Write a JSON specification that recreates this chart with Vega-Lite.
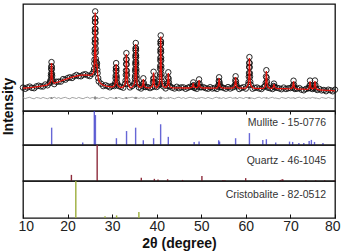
{
  "$schema": "https://vega.github.io/schema/vega-lite/v6.json",
  "padding": {"left": 0, "top": 3, "right": 4, "bottom": 0},
  "config": {
    "font": "Liberation Sans",
    "view": {"stroke": "#111", "strokeWidth": 1.3},
    "axis": {"grid": false}
  },
  "datasets": {
    "scan": [
      {"t":10.0,"o":234,"c":228,"d":134},{"t":10.5,"o":222,"c":230,"d":124},{"t":11.0,"o":235,"c":232,"d":132},{"t":11.5,"o":244,"c":234,"d":137},
      {"t":12.0,"o":231,"c":236,"d":127},{"t":12.5,"o":228,"c":239,"d":122},{"t":13.0,"o":246,"c":242,"d":135},{"t":13.5,"o":253,"c":245,"d":131},
      {"t":14.0,"o":246,"c":248,"d":125},{"t":14.5,"o":245,"c":252,"d":136},{"t":15.0,"o":265,"c":256,"d":128},{"t":15.5,"o":257,"c":261,"d":123},
      {"t":16.0,"o":280,"c":279,"d":133},{"t":17.0,"o":269,"c":278,"d":138},{"t":17.5,"o":292,"c":285,"d":126},{"t":18.0,"o":294,"c":292,"d":134},
      {"t":18.5,"o":294,"c":300,"d":124},{"t":19.0,"o":319,"c":308,"d":132},{"t":19.5,"o":313,"c":316,"d":137},{"t":20.0,"o":329,"c":324,"d":127},
      {"t":20.5,"o":337,"c":331,"d":122},{"t":21.0,"o":330,"c":338,"d":135},{"t":21.5,"o":347,"c":344,"d":131},{"t":22.0,"o":360,"c":350,"d":125},
      {"t":22.5,"o":349,"c":354,"d":136},{"t":23.0,"o":347,"c":358,"d":128},{"t":23.5,"o":363,"c":359,"d":123},{"t":24.0,"o":368,"c":360,"d":133},
      {"t":24.5,"o":356,"c":358,"d":138},{"t":25.0,"o":349,"c":356,"d":126},{"t":25.5,"o":372,"c":363,"d":134},{"t":27.0,"o":296,"c":300,"d":124},
      {"t":27.5,"o":273,"c":272,"d":132},{"t":28.0,"o":249,"c":258,"d":137},{"t":28.5,"o":258,"c":251,"d":127},{"t":29.0,"o":248,"c":246,"d":122},
      {"t":29.5,"o":237,"c":243,"d":135},{"t":30.0,"o":251,"c":240,"d":131},{"t":30.5,"o":249,"c":252,"d":125},{"t":31.5,"o":249,"c":244,"d":136},
      {"t":32.0,"o":241,"c":235,"d":128},{"t":32.5,"o":233,"c":241,"d":123},{"t":34.0,"o":236,"c":233,"d":133},{"t":34.5,"o":250,"c":240,"d":138},
      {"t":36.0,"o":236,"c":241,"d":126},{"t":36.5,"o":225,"c":236,"d":134},{"t":37.5,"o":240,"c":236,"d":124},{"t":38.0,"o":239,"c":231,"d":132},
      {"t":38.5,"o":229,"c":231,"d":137},{"t":39.0,"o":239,"c":246,"d":127},{"t":40.0,"o":240,"c":231,"d":122},{"t":40.5,"o":257,"c":261,"d":135},
      {"t":41.5,"o":246,"c":245,"d":131},{"t":42.0,"o":226,"c":235,"d":125},{"t":43.0,"o":247,"c":240,"d":136},{"t":43.5,"o":233,"c":231,"d":128},
      {"t":44.0,"o":225,"c":231,"d":123},{"t":44.5,"o":242,"c":231,"d":133},{"t":45.0,"o":228,"c":231,"d":138},{"t":45.5,"o":236,"c":231,"d":126},
      {"t":46.0,"o":236,"c":230,"d":134},{"t":46.5,"o":222,"c":230,"d":124},{"t":47.0,"o":233,"c":230,"d":132},{"t":47.5,"o":242,"c":232,"d":137},
      {"t":48.5,"o":230,"c":235,"d":127},{"t":49.0,"o":222,"c":233,"d":122},{"t":50.0,"o":237,"c":233,"d":135},{"t":50.5,"o":238,"c":230,"d":131},
      {"t":51.0,"o":228,"c":230,"d":125},{"t":51.5,"o":223,"c":230,"d":136},{"t":52.0,"o":238,"c":229,"d":128},{"t":52.5,"o":225,"c":229,"d":123},
      {"t":53.0,"o":230,"c":229,"d":133},{"t":53.5,"o":221,"c":230,"d":138},{"t":54.5,"o":240,"c":233,"d":126},{"t":55.0,"o":231,"c":229,"d":134},
      {"t":55.5,"o":223,"c":229,"d":124},{"t":56.0,"o":239,"c":228,"d":132},{"t":56.5,"o":225,"c":228,"d":137},{"t":57.0,"o":235,"c":230,"d":127},
      {"t":58.0,"o":246,"c":240,"d":122},{"t":58.5,"o":220,"c":228,"d":135},{"t":59.0,"o":231,"c":228,"d":131},{"t":59.5,"o":238,"c":228,"d":125},
      {"t":60.0,"o":224,"c":229,"d":136},{"t":61.5,"o":223,"c":234,"d":128},{"t":62.0,"o":231,"c":227,"d":123},{"t":62.5,"o":235,"c":227,"d":133},
      {"t":63.0,"o":225,"c":227,"d":138},{"t":63.5,"o":220,"c":227,"d":126},{"t":64.0,"o":238,"c":229,"d":134},{"t":65.0,"o":232,"c":236,"d":124},
      {"t":65.5,"o":227,"c":226,"d":132},{"t":66.0,"o":220,"c":229,"d":137},{"t":67.0,"o":232,"c":225,"d":127},{"t":67.5,"o":226,"c":224,"d":122},
      {"t":68.0,"o":218,"c":224,"d":135},{"t":68.5,"o":234,"c":223,"d":131},{"t":69.0,"o":220,"c":223,"d":125},{"t":69.5,"o":227,"c":222,"d":136},
      {"t":70.0,"o":229,"c":223,"d":128},{"t":71.0,"o":220,"c":228,"d":123},{"t":71.5,"o":223,"c":220,"d":133},{"t":72.0,"o":229,"c":219,"d":138},
      {"t":72.5,"o":213,"c":218,"d":126},{"t":73.0,"o":207,"c":218,"d":134},{"t":73.5,"o":221,"c":217,"d":124},{"t":74.0,"o":227,"c":219,"d":132},
      {"t":75.0,"o":220,"c":222,"d":137},{"t":76.0,"o":210,"c":217,"d":127},{"t":76.5,"o":221,"c":212,"d":122},{"t":77.0,"o":206,"c":210,"d":135},
      {"t":77.5,"o":210,"c":209,"d":131},{"t":78.0,"o":198,"c":207,"d":125},{"t":78.5,"o":213,"c":206,"d":136},{"t":79.0,"o":207,"c":205,"d":128},
      {"t":79.5,"o":197,"c":203,"d":123},{"t":80.0,"o":213,"c":202,"d":133},

      {"t":16.1,"o":294,"c":291,"d":131},{"t":16.212,"o":311,"c":316,"d":127},{"t":16.267,"o":352,"c":346,"d":134},{"t":16.304,"o":375,"c":379,"d":126},
      {"t":16.331,"o":420,"c":413,"d":138},{"t":16.358,"o":446,"c":449,"d":122},{"t":16.4,"o":489,"c":480,"d":140},{"t":16.442,"o":443,"c":449,"d":121},
      {"t":16.469,"o":417,"c":413,"d":136},{"t":16.496,"o":372,"c":379,"d":128},{"t":16.533,"o":351,"c":346,"d":133},{"t":16.588,"o":314,"c":316,"d":125},
      {"t":16.7,"o":296,"c":292,"d":131},

      {"t":25.84,"o":392,"c":388,"d":133},{"t":25.94,"o":420,"c":425,"d":127},{"t":26.0,"o":476,"c":469,"d":135},{"t":26.04,"o":514,"c":520,"d":124},
      {"t":26.067,"o":578,"c":571,"d":138},{"t":26.087,"o":617,"c":623,"d":121},{"t":26.104,"o":681,"c":674,"d":140},{"t":26.118,"o":719,"c":726,"d":119},
      {"t":26.131,"o":786,"c":778,"d":142},{"t":26.144,"o":822,"c":829,"d":118},{"t":26.156,"o":889,"c":881,"d":141},{"t":26.171,"o":927,"c":933,"d":122},
      {"t":26.2,"o":996,"c":985,"d":145},{"t":26.229,"o":925,"c":932,"d":117},{"t":26.244,"o":887,"c":880,"d":139},{"t":26.256,"o":820,"c":827,"d":121},
      {"t":26.269,"o":782,"c":775,"d":137},{"t":26.282,"o":716,"c":723,"d":123},{"t":26.296,"o":677,"c":670,"d":136},{"t":26.313,"o":624,"c":630,"d":125},
      {"t":26.333,"o":585,"c":578,"d":134},{"t":26.36,"o":522,"c":528,"d":127},{"t":26.4,"o":489,"c":483,"d":133},{"t":26.464,"o":445,"c":450,"d":126},
      {"t":26.527,"o":458,"c":452,"d":132},{"t":26.6,"o":478,"c":470,"d":128},{"t":26.673,"o":413,"c":418,"d":135},{"t":26.736,"o":379,"c":374,"d":127},
      {"t":26.87,"o":329,"c":333,"d":131},

      {"t":30.6,"o":264,"c":261,"d":131},{"t":30.712,"o":284,"c":289,"d":127},{"t":30.767,"o":328,"c":322,"d":134},{"t":30.804,"o":355,"c":359,"d":126},
      {"t":30.831,"o":403,"c":396,"d":138},{"t":30.858,"o":432,"c":435,"d":122},{"t":30.9,"o":479,"c":470,"d":140},{"t":30.942,"o":429,"c":435,"d":121},
      {"t":30.969,"o":400,"c":396,"d":136},{"t":30.996,"o":352,"c":359,"d":128},{"t":31.033,"o":327,"c":322,"d":133},{"t":31.088,"o":287,"c":289,"d":125},
      {"t":31.2,"o":265,"c":261,"d":131},

      {"t":32.9,"o":271,"c":268,"d":131},{"t":33.012,"o":303,"c":308,"d":127},{"t":33.067,"o":361,"c":355,"d":134},{"t":33.104,"o":405,"c":409,"d":126},
      {"t":33.131,"o":469,"c":462,"d":138},{"t":33.158,"o":517,"c":520,"d":122},{"t":33.2,"o":579,"c":570,"d":140},{"t":33.242,"o":514,"c":520,"d":121},
      {"t":33.269,"o":466,"c":462,"d":136},{"t":33.296,"o":402,"c":409,"d":128},{"t":33.333,"o":360,"c":355,"d":133},{"t":33.388,"o":306,"c":308,"d":125},
      {"t":33.5,"o":272,"c":268,"d":131},

      {"t":34.94,"o":268,"c":264,"d":131},{"t":35.04,"o":285,"c":290,"d":127},{"t":35.1,"o":327,"c":320,"d":134},{"t":35.14,"o":350,"c":355,"d":126},
      {"t":35.167,"o":397,"c":390,"d":137},{"t":35.187,"o":419,"c":425,"d":123},{"t":35.204,"o":467,"c":460,"d":139},{"t":35.218,"o":489,"c":495,"d":121},
      {"t":35.231,"o":537,"c":530,"d":138},{"t":35.244,"o":559,"c":565,"d":122},{"t":35.256,"o":607,"c":600,"d":137},{"t":35.271,"o":629,"c":635,"d":124},
      {"t":35.3,"o":680,"c":670,"d":141},{"t":35.329,"o":628,"c":635,"d":120},{"t":35.344,"o":606,"c":600,"d":136},{"t":35.356,"o":558,"c":565,"d":125},
      {"t":35.369,"o":536,"c":530,"d":135},{"t":35.382,"o":490,"c":495,"d":126},{"t":35.396,"o":466,"c":460,"d":133},{"t":35.413,"o":420,"c":425,"d":127},
      {"t":35.433,"o":395,"c":390,"d":134},{"t":35.46,"o":351,"c":355,"d":128},{"t":35.5,"o":324,"c":320,"d":132},{"t":35.56,"o":286,"c":290,"d":127},
      {"t":35.66,"o":268,"c":264,"d":131},

      {"t":36.76,"o":248,"c":245,"d":131},{"t":36.9,"o":272,"c":276,"d":127},{"t":37.0,"o":327,"c":320,"d":135},{"t":37.1,"o":280,"c":276,"d":125},
      {"t":37.24,"o":242,"c":245,"d":131},

      {"t":39.164,"o":289,"c":285,"d":132},{"t":39.227,"o":326,"c":331,"d":127},{"t":39.3,"o":392,"c":385,"d":136},{"t":39.373,"o":326,"c":331,"d":124},
      {"t":39.436,"o":289,"c":285,"d":133},{"t":39.57,"o":246,"c":249,"d":129},

      {"t":40.54,"o":271,"c":267,"d":131},{"t":40.64,"o":293,"c":298,"d":127},{"t":40.7,"o":341,"c":334,"d":134},{"t":40.74,"o":369,"c":375,"d":125},
      {"t":40.767,"o":423,"c":416,"d":138},{"t":40.787,"o":451,"c":457,"d":122},{"t":40.804,"o":505,"c":498,"d":140},{"t":40.818,"o":532,"c":539,"d":120},
      {"t":40.831,"o":588,"c":581,"d":141},{"t":40.844,"o":615,"c":622,"d":119},{"t":40.856,"o":671,"c":663,"d":140},{"t":40.871,"o":697,"c":704,"d":122},
      {"t":40.9,"o":756,"c":745,"d":143},{"t":40.929,"o":696,"c":704,"d":118},{"t":40.944,"o":670,"c":663,"d":139},{"t":40.956,"o":615,"c":622,"d":121},
      {"t":40.969,"o":588,"c":581,"d":137},{"t":40.982,"o":533,"c":539,"d":124},{"t":40.996,"o":504,"c":498,"d":135},{"t":41.013,"o":451,"c":457,"d":126},
      {"t":41.033,"o":421,"c":416,"d":134},{"t":41.06,"o":370,"c":375,"d":127},{"t":41.1,"o":338,"c":334,"d":133},{"t":41.16,"o":294,"c":298,"d":128},
      {"t":41.26,"o":270,"c":267,"d":131},

      {"t":42.33,"o":252,"c":249,"d":131},{"t":42.464,"o":279,"c":283,"d":127},{"t":42.527,"o":334,"c":328,"d":134},{"t":42.6,"o":387,"c":380,"d":137},
      {"t":42.673,"o":323,"c":328,"d":124},{"t":42.736,"o":287,"c":283,"d":133},{"t":42.87,"o":246,"c":249,"d":129},

      {"t":47.96,"o":241,"c":238,"d":131},{"t":48.1,"o":251,"c":255,"d":128},{"t":48.2,"o":286,"c":280,"d":134},{"t":48.3,"o":258,"c":255,"d":126},
      {"t":48.44,"o":235,"c":238,"d":131},

      {"t":49.26,"o":245,"c":242,"d":131},{"t":49.4,"o":266,"c":270,"d":127},{"t":49.5,"o":316,"c":310,"d":135},{"t":49.6,"o":273,"c":270,"d":125},
      {"t":49.74,"o":239,"c":242,"d":131},

      {"t":53.73,"o":244,"c":241,"d":131},{"t":53.864,"o":260,"c":264,"d":127},{"t":53.927,"o":300,"c":295,"d":134},{"t":54.0,"o":337,"c":330,"d":136},
      {"t":54.073,"o":290,"c":295,"d":125},{"t":54.136,"o":268,"c":264,"d":133},{"t":54.27,"o":238,"c":241,"d":129},

      {"t":57.43,"o":244,"c":241,"d":131},{"t":57.564,"o":263,"c":267,"d":127},{"t":57.627,"o":306,"c":301,"d":134},{"t":57.7,"o":347,"c":340,"d":136},
      {"t":57.773,"o":296,"c":301,"d":125},{"t":57.836,"o":270,"c":267,"d":133},

      {"t":60.5,"o":262,"c":258,"d":131},{"t":60.612,"o":289,"c":294,"d":127},{"t":60.667,"o":343,"c":337,"d":134},{"t":60.704,"o":380,"c":385,"d":126},
      {"t":60.731,"o":440,"c":433,"d":138},{"t":60.758,"o":481,"c":485,"d":122},{"t":60.8,"o":539,"c":530,"d":139},{"t":60.842,"o":479,"c":485,"d":121},
      {"t":60.869,"o":437,"c":433,"d":136},{"t":60.896,"o":378,"c":385,"d":128},{"t":60.933,"o":342,"c":337,"d":133},{"t":60.988,"o":292,"c":294,"d":125},
      {"t":61.1,"o":262,"c":258,"d":131},

      {"t":64.33,"o":250,"c":247,"d":131},{"t":64.464,"o":282,"c":287,"d":127},{"t":64.527,"o":345,"c":339,"d":134},{"t":64.6,"o":408,"c":400,"d":138},
      {"t":64.673,"o":333,"c":339,"d":123},{"t":64.736,"o":291,"c":287,"d":133},{"t":64.87,"o":244,"c":247,"d":129},

      {"t":66.2,"o":250,"c":247,"d":131},{"t":66.3,"o":274,"c":269,"d":134},{"t":66.4,"o":243,"c":247,"d":127},{"t":66.54,"o":235,"c":232,"d":131},

      {"t":70.46,"o":236,"c":233,"d":131},{"t":70.6,"o":256,"c":260,"d":128},{"t":70.7,"o":303,"c":297,"d":135},{"t":70.8,"o":263,"c":260,"d":125},
      {"t":70.94,"o":230,"c":233,"d":131},

      {"t":74.16,"o":231,"c":228,"d":131},{"t":74.3,"o":253,"c":257,"d":128},{"t":74.4,"o":304,"c":298,"d":134},{"t":74.5,"o":260,"c":257,"d":126},
      {"t":74.64,"o":225,"c":228,"d":131},

      {"t":75.26,"o":230,"c":227,"d":131},{"t":75.4,"o":253,"c":257,"d":128},{"t":75.5,"o":305,"c":299,"d":135},{"t":75.6,"o":260,"c":257,"d":125},
      {"t":75.74,"o":224,"c":227,"d":131}
    ],
    "mullite": [
      {"t":16.43,"h":51},{"t":23.4,"h":7},{"t":26.0,"h":100},{"t":26.25,"h":88},{"t":30.96,"h":20},{"t":33.23,"h":41},
      {"t":35.27,"h":51},{"t":36.99,"h":14},{"t":39.3,"h":20},{"t":40.88,"h":61},{"t":42.6,"h":24},{"t":48.4,"h":9},
      {"t":49.5,"h":10},{"t":53.9,"h":14},{"t":54.1,"h":10},{"t":57.7,"h":20},{"t":60.8,"h":35},{"t":63.8,"h":15},
      {"t":64.6,"h":17},{"t":66.7,"h":7},{"t":69.8,"h":10},{"t":70.5,"h":9},{"t":71.9,"h":6},{"t":73.0,"h":6},
      {"t":74.2,"h":12},{"t":74.7,"h":15},{"t":75.4,"h":9},{"t":77.3,"h":6}
    ],
    "quartz": [
      {"t":20.86,"h":17},{"t":26.64,"h":100},{"t":36.54,"h":9},{"t":39.47,"h":6},{"t":40.29,"h":4},{"t":42.45,"h":5},
      {"t":45.8,"h":3},{"t":50.14,"h":14},{"t":54.87,"h":3},{"t":55.3,"h":2},{"t":59.96,"h":8},{"t":64.0,"h":2},
      {"t":67.74,"h":3},{"t":68.14,"h":5},{"t":68.32,"h":4},{"t":73.47,"h":2},{"t":75.66,"h":2},{"t":77.68,"h":2},{"t":79.88,"h":2}
    ],
    "cristobalite": [
      {"t":21.85,"h":100},{"t":28.4,"h":5},{"t":31.0,"h":7},{"t":36.0,"h":16}
    ]
  },
  "spacing": 0,
  "bounds": "flush",
  "vconcat": [
    {
      "width": 312,
      "height": 107,
      "data": {"name": "scan"},
      "layer": [
        {
          "mark": {"type": "line", "color": "#8c8c8c", "strokeWidth": 0.8},
          "encoding": {
            "x": {"field": "t", "type": "quantitative", "scale": {"domain": [10, 80], "nice": false, "zero": false},
                  "axis": {"orient": "bottom", "values": [10,12.5,15,17.5,20,22.5,25,27.5,30,32.5,35,37.5,40,42.5,45,47.5,50,52.5,55,57.5,60,62.5,65,67.5,70,72.5,75,77.5,80],
                           "labels": false, "tickSize": 3, "tickColor": "#111", "domain": false, "title": null}},
            "y": {"field": "d", "type": "quantitative", "scale": {"domain": [0, 1070], "nice": false},
                  "axis": {"title": "Intensity", "titleFontSize": 14, "titleFontWeight": "bold", "titleColor": "#111", "titlePadding": 8, "titleY": 102,
                           "labels": false, "ticks": false, "domain": false}}
          }
        },
        {
          "mark": {"type": "point", "shape": "circle", "size": 30, "filled": false, "stroke": "#111", "strokeWidth": 0.9, "opacity": 1},
          "encoding": {
            "x": {"field": "t", "type": "quantitative"},
            "y": {"field": "o", "type": "quantitative"}
          }
        },
        {
          "mark": {"type": "line", "color": "#e3120b", "strokeWidth": 1.3},
          "encoding": {
            "x": {"field": "t", "type": "quantitative"},
            "y": {"field": "c", "type": "quantitative"}
          }
        }
      ]
    },
    {
      "width": 312,
      "height": 34,
      "layer": [
        {
          "data": {"name": "mullite"},
          "mark": {"type": "rule", "color": "#3434c8", "strokeWidth": 1.4, "opacity": 0.75},
          "encoding": {
            "x": {"field": "t", "type": "quantitative", "scale": {"domain": [10, 80], "nice": false, "zero": false}, "axis": null},
            "y": {"field": "h", "type": "quantitative", "scale": {"domain": [0, 100], "nice": false}, "axis": null},
            "y2": {"datum": 0}
          }
        },
        {
          "data": {"values": [{}]},
          "mark": {"type": "text", "align": "right", "baseline": "middle", "fontSize": 10.5, "color": "#333"},
          "encoding": {"x": {"datum": 78}, "y": {"datum": 66}, "text": {"value": "Mullite - 15-0776"}}
        }
      ]
    },
    {
      "width": 312,
      "height": 36,
      "layer": [
        {
          "data": {"name": "quartz"},
          "mark": {"type": "rule", "color": "#8e2c3c", "strokeWidth": 1.4},
          "encoding": {
            "x": {"field": "t", "type": "quantitative", "scale": {"domain": [10, 80], "nice": false, "zero": false}, "axis": null},
            "y": {"field": "h", "type": "quantitative", "scale": {"domain": [0, 100], "nice": false}, "axis": null},
            "y2": {"datum": 0}
          }
        },
        {
          "data": {"values": [{}]},
          "mark": {"type": "text", "align": "right", "baseline": "middle", "fontSize": 10.5, "color": "#333"},
          "encoding": {"x": {"datum": 78}, "y": {"datum": 56}, "text": {"value": "Quartz - 46-1045"}}
        }
      ]
    },
    {
      "width": 312,
      "height": 37,
      "layer": [
        {
          "data": {"name": "cristobalite"},
          "mark": {"type": "rule", "color": "#9cae3c", "strokeWidth": 1.4},
          "encoding": {
            "x": {"field": "t", "type": "quantitative", "scale": {"domain": [10, 80], "nice": false, "zero": false},
                  "axis": {"orient": "bottom", "values": [10,15,20,25,30,35,40,45,50,55,60,65,70,75,80],
                           "labelExpr": "datum.value % 10 === 0 ? datum.label : ''",
                           "tickSize": -4, "tickColor": "#111", "labelFontSize": 14, "labelColor": "#222", "labelPadding": 5,
                           "labelFlush": true, "labelFlushOffset": 5, "labelOverlap": false, "domain": false,
                           "title": "2θ (degree)", "titleFontSize": 14, "titleFontWeight": "bold", "titleColor": "#111", "titlePadding": 3}},
            "y": {"field": "h", "type": "quantitative", "scale": {"domain": [0, 100], "nice": false}, "axis": null},
            "y2": {"datum": 0}
          }
        },
        {
          "data": {"values": [{}]},
          "mark": {"type": "text", "align": "right", "baseline": "middle", "fontSize": 10.5, "color": "#333"},
          "encoding": {"x": {"datum": 78}, "y": {"datum": 61}, "text": {"value": "Cristobalite - 82-0512"}}
        }
      ]
    }
  ]
}
